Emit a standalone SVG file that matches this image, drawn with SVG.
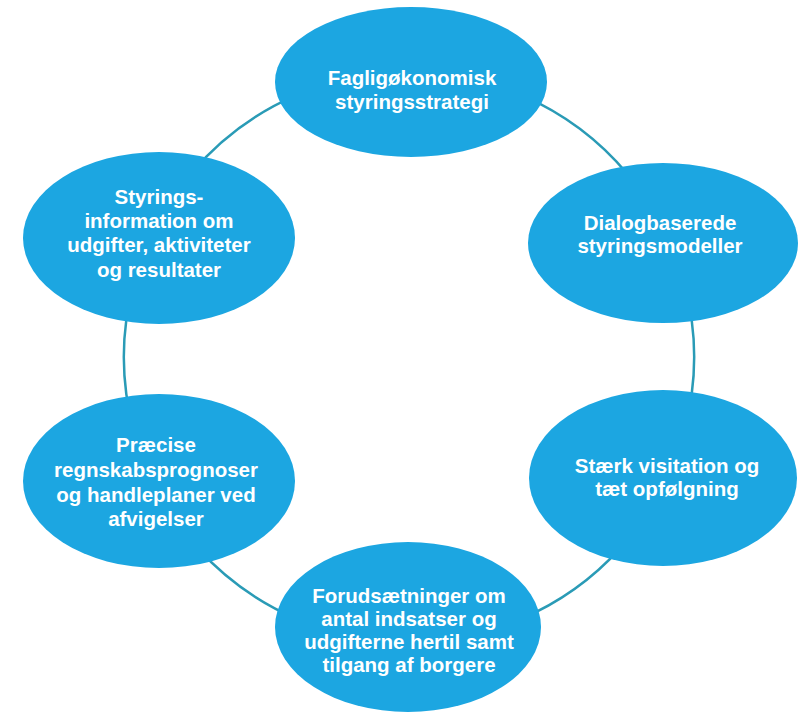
<svg xmlns="http://www.w3.org/2000/svg" width="799" height="713" viewBox="0 0 799 713">
<style>
.bg{fill:#ffffff}
.node ellipse{fill:#1ca6e1}
.node text{fill:#ffffff;font-family:"Liberation Sans",Arial,Helvetica,sans-serif;font-weight:bold;font-size:20.5px;text-anchor:middle}
.conn path{fill:none;stroke:#2a9bb6;stroke-width:2.5}
</style>
<rect class="bg" x="0" y="0" width="799" height="713"/>
<g id="connectors" class="conn">
<path d="M295.4,95.6 A285,285 0 0 0 190.7,173.8"/>
<path d="M522.6,95.6 A285,285 0 0 1 627.3,173.8"/>
<path d="M133.7,283.2 A285,285 0 0 0 133.7,430.8"/>
<path d="M684.3,283.2 A285,285 0 0 1 684.3,430.8"/>
<path d="M197.2,547.7 A285,285 0 0 0 297.6,619.3"/>
<path d="M620.8,547.7 A285,285 0 0 1 520.4,619.3"/>
</g>
<g id="node-top" class="node">
<ellipse cx="411" cy="82" rx="136" ry="75"/>
<text x="412" y="85">Fagligøkonomisk</text>
<text x="412" y="109">styringsstrategi</text>
</g>
<g id="node-top-left" class="node">
<ellipse cx="159" cy="238" rx="136" ry="86"/>
<text x="159" y="204">Styrings-</text>
<text x="159" y="228">information om</text>
<text x="159" y="252">udgifter, aktiviteter</text>
<text x="159" y="277">og resultater</text>
</g>
<g id="node-top-right" class="node">
<ellipse cx="663" cy="243" rx="135" ry="80"/>
<text x="660" y="230">Dialogbaserede</text>
<text x="660" y="253">styringsmodeller</text>
</g>
<g id="node-bottom-left" class="node">
<ellipse cx="159" cy="481" rx="136" ry="87"/>
<text x="156" y="452">Præcise</text>
<text x="156" y="477">regnskabsprognoser</text>
<text x="156" y="502">og handleplaner ved</text>
<text x="156" y="526">afvigelser</text>
</g>
<g id="node-bottom-right" class="node">
<ellipse cx="663" cy="478" rx="134" ry="88"/>
<text x="667" y="473">Stærk visitation og</text>
<text x="667" y="496">tæt opfølgning</text>
</g>
<g id="node-bottom" class="node">
<ellipse cx="408" cy="627" rx="133" ry="85"/>
<text x="409" y="603">Forudsætninger om</text>
<text x="409" y="626">antal indsatser og</text>
<text x="409" y="649">udgifterne hertil samt</text>
<text x="409" y="672">tilgang af borgere</text>
</g>
</svg>
